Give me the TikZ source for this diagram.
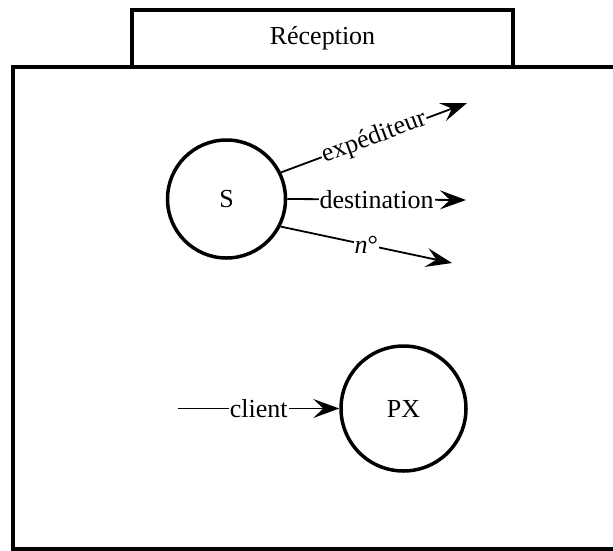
\documentclass[tikz,border=0pt]{standalone}
\usepackage{fontspec}
\setmainfont{Liberation Serif}
\usetikzlibrary{arrows.meta,positioning}

\begin{document}
\begin{tikzpicture}[x=1pt,y=-1pt,
  proc/.style={circle,draw,line width=3.5pt,minimum size=#1},
  flow/.style={line width=1.8pt,-{Stealth[length=26pt,width=19pt,inset=10pt]}},
  lbl/.style={fill=white,inner sep=1pt},
  font=\fontsize{26}{30}\selectfont]
\useasboundingbox (0,0) rectangle (613,550);
\clip (0,0) rectangle (613,550);
\draw [line width=3.5pt] (13,67) rectangle (650,549);
\node [draw,fill=white,line width=3.5pt,minimum width=381pt,minimum height=57pt] (titre) at (322.5,38.5) {Réception};
\node [proc=118pt] (S) at (226.5,199) {S};
\node [proc=125pt] (PX) at (403.5,408.5) {PX};
\coordinate (expd) at (467,103);
\coordinate (dest) at (466,200);
\coordinate (num) at (452,263);
\coordinate (cl) at (178,408.5);
\draw [flow] (S.26) -- node[lbl,sloped] {expéditeur} (expd);
\draw [flow] (S.east) -- node[lbl] {destination} (dest);
\draw [flow] (S.-27) -- node[lbl] {\textit{n}°} (num);
\draw [flow] (cl) -- node[lbl] {client} (PX);
\end{tikzpicture}
\end{document}
